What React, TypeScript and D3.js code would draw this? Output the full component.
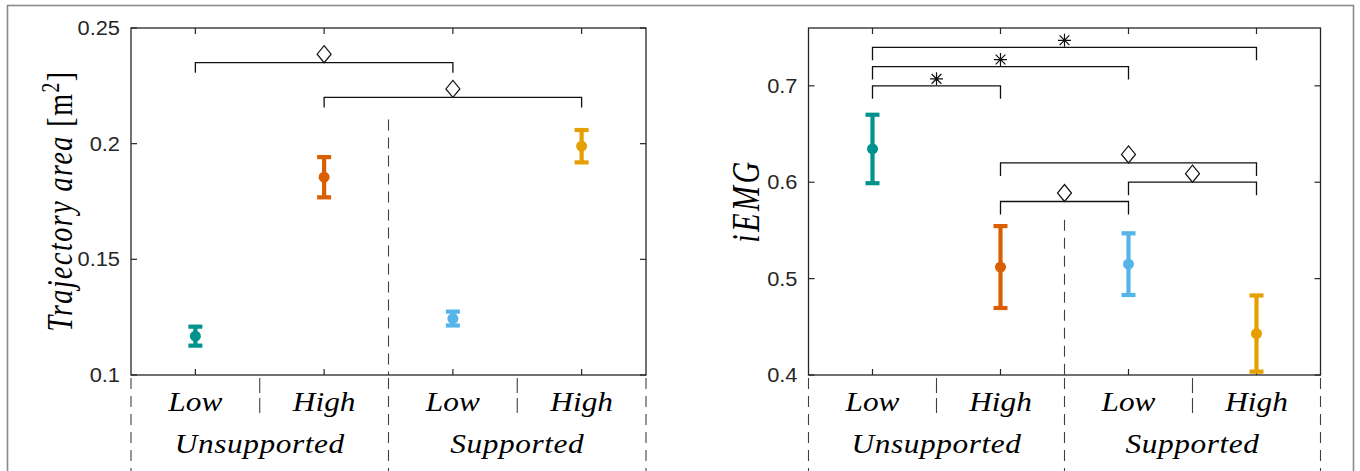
import React, { useEffect, useRef } from 'react';
import * as d3 from 'd3';

// --- data ---
const categories = ['Low', 'High', 'Low', 'High'];
const groups = ['Unsupported', 'Supported'];
const colors = ['#00928C', '#D95F02', '#56B4E9', '#E69F00'];

const areaMean = [0.1168, 0.1855, 0.1244, 0.1989];
const areaErr = [0.0041, 0.0087, 0.003, 0.007];
const areaTicks = [0.1, 0.15, 0.2, 0.25];
const areaTickLabels = ['0.1', '0.15', '0.2', '0.25'];
const areaBrackets = [
  { from: 0, to: 2, y: 0.235, mark: 'diamond' },
  { from: 1, to: 3, y: 0.22, mark: 'diamond' },
];

const emgMean = [0.6345, 0.512, 0.515, 0.443];
const emgErr = [0.0355, 0.0425, 0.032, 0.0395];
const emgTicks = [0.4, 0.5, 0.6, 0.7];
const emgTickLabels = ['0.4', '0.5', '0.6', '0.7'];
const emgBrackets = [
  { from: 0, to: 3, y: 0.74, mark: 'star' },
  { from: 0, to: 2, y: 0.72, mark: 'star' },
  { from: 0, to: 1, y: 0.7, mark: 'star' },
  { from: 1, to: 3, y: 0.62, mark: 'diamond' },
  { from: 2, to: 3, y: 0.6, mark: 'diamond' },
  { from: 1, to: 2, y: 0.58, mark: 'diamond' },
];

// the source picture is stretched sideways, text follows that
const SX = 1.3;
const AXIS_COLOR = '#262626';
const SERIF = '"Liberation Serif", "Times New Roman", serif';
const SANS = '"Liberation Sans", Arial, sans-serif';

function drawPanel(svg, cfg) {
  const top = 28;
  const bottom = 375;
  const g = svg.append('g');

  const x = d3.scalePoint().domain(d3.range(4)).range([cfg.left, cfg.right]).padding(0.5);
  const step = x.step();
  const edge = i => cfg.left + i * step;

  const y = d3.scaleLinear().domain(cfg.domain).range([bottom, top]);

  // box
  g.append('rect')
    .attr('x', cfg.left).attr('y', top)
    .attr('width', cfg.right - cfg.left).attr('height', bottom - top)
    .attr('fill', 'none').attr('stroke', AXIS_COLOR).attr('stroke-width', 1.3);

  // inward ticks
  cfg.ticks.forEach(t => {
    g.append('line').attr('x1', cfg.left).attr('x2', cfg.left + 6)
      .attr('y1', y(t)).attr('y2', y(t)).attr('stroke', AXIS_COLOR).attr('stroke-width', 1.2);
    g.append('line').attr('x1', cfg.right).attr('x2', cfg.right - 6)
      .attr('y1', y(t)).attr('y2', y(t)).attr('stroke', AXIS_COLOR).attr('stroke-width', 1.2);
  });
  d3.range(4).forEach(i => {
    g.append('line').attr('x1', x(i)).attr('x2', x(i))
      .attr('y1', top).attr('y2', top + 6).attr('stroke', AXIS_COLOR).attr('stroke-width', 1.2);
    g.append('line').attr('x1', x(i)).attr('x2', x(i))
      .attr('y1', bottom).attr('y2', bottom - 6).attr('stroke', AXIS_COLOR).attr('stroke-width', 1.2);
  });

  // tick labels
  cfg.ticks.forEach((t, i) => {
    g.append('text')
      .attr('transform', `translate(${cfg.left - 11},${y(t) + 7}) scale(1.12,1)`)
      .attr('text-anchor', 'end')
      .attr('font-family', SANS).attr('font-size', 19.5).attr('fill', AXIS_COLOR)
      .text(cfg.tickLabels[i]);
  });

  // dashed separators
  const dash = '11,7';
  g.append('line').attr('x1', edge(2)).attr('x2', edge(2))
    .attr('y1', y(cfg.dividerTop)).attr('y2', bottom)
    .attr('stroke', '#404040').attr('stroke-width', 1.1).attr('stroke-dasharray', dash);
  [0, 2, 4].forEach(i => {
    g.append('line').attr('x1', edge(i)).attr('x2', edge(i))
      .attr('y1', bottom + 3).attr('y2', 480)
      .attr('stroke', '#404040').attr('stroke-width', 1.1).attr('stroke-dasharray', dash);
  });
  [1, 3].forEach(i => {
    g.append('line').attr('x1', edge(i)).attr('x2', edge(i))
      .attr('y1', bottom + 3).attr('y2', bottom + 38)
      .attr('stroke', '#404040').attr('stroke-width', 1.1).attr('stroke-dasharray', '15,5');
  });

  // category + group labels
  categories.forEach((c, i) => {
    g.append('text')
      .attr('transform', `translate(${x(i)},411) scale(1.12,1)`)
      .attr('text-anchor', 'middle')
      .attr('font-family', SERIF).attr('font-style', 'italic').attr('font-size', 28)
      .attr('fill', '#000').text(c);
  });
  groups.forEach((gr, i) => {
    g.append('text')
      .attr('transform', `translate(${edge(i * 2 + 1)},453) scale(1.12,1)`)
      .attr('text-anchor', 'middle')
      .attr('font-family', SERIF).attr('font-style', 'italic').attr('font-size', 28)
      .attr('letter-spacing', 0.5)
      .attr('fill', '#000').text(gr);
  });

  // y label
  const lab = g.append('text')
    .attr('transform', `translate(${cfg.labelX},201) scale(${SX},1) rotate(-90)`)
    .attr('text-anchor', 'middle')
    .attr('font-family', SERIF).attr('font-size', cfg.labelSize)
    .attr('letter-spacing', cfg.labelSpacing).attr('fill', '#000');
  lab.append('tspan').attr('font-style', 'italic').text(cfg.label);
  if (cfg.unit) {
    lab.append('tspan').text(' [m');
    lab.append('tspan').attr('font-size', cfg.labelSize * 0.7).attr('dy', -10).text('2');
    lab.append('tspan').attr('dy', 10).text(']');
  }

  // significance brackets
  cfg.brackets.forEach(b => {
    const yy = y(b.y);
    g.append('path')
      .attr('d', `M${x(b.from)},${yy + cfg.drop}V${yy}H${x(b.to)}V${yy + cfg.drop}`)
      .attr('fill', 'none').attr('stroke', '#111').attr('stroke-width', 1.3);
    const mx = (x(b.from) + x(b.to)) / 2;
    if (b.mark === 'diamond') {
      const cy = yy - 8.5;
      g.append('path')
        .attr('d', `M${mx},${cy - 8.5}L${mx + 7},${cy}L${mx},${cy + 8.5}L${mx - 7},${cy}Z`)
        .attr('fill', 'white').attr('stroke', '#111').attr('stroke-width', 1.2);
    } else {
      const cy = yy - 7;
      const r = 6.5;
      const d = r * 0.75;
      g.append('path')
        .attr('d', `M${mx},${cy - r}V${cy + r}M${mx - r},${cy}H${mx + r}` +
          `M${mx - d},${cy - d}L${mx + d},${cy + d}M${mx - d},${cy + d}L${mx + d},${cy - d}`)
        .attr('stroke', '#111').attr('stroke-width', 1.2);
    }
  });

  // error bars
  cfg.mean.forEach((m, i) => {
    const cx = x(i);
    const lo = y(m - cfg.err[i]);
    const hi = y(m + cfg.err[i]);
    const eg = g.append('g').attr('stroke', colors[i]).attr('stroke-width', 4.2);
    eg.append('line').attr('x1', cx).attr('x2', cx).attr('y1', lo).attr('y2', hi);
    eg.append('line').attr('x1', cx - 7).attr('x2', cx + 7).attr('y1', lo).attr('y2', lo);
    eg.append('line').attr('x1', cx - 7).attr('x2', cx + 7).attr('y1', hi).attr('y2', hi);
    g.append('circle').attr('cx', cx).attr('cy', y(m)).attr('r', 5.5).attr('fill', colors[i]);
  });
}

export default function App() {
  const svgRef = useRef(null);

  useEffect(() => {
    const svg = d3.select(svgRef.current);
    svg.selectAll('*').remove();

    // outer figure frame
    svg.append('rect')
      .attr('x', 7.5).attr('y', 5.5).attr('width', 1346).attr('height', 520)
      .attr('fill', 'white').attr('stroke', '#8a8a8a').attr('stroke-width', 1.6);

    drawPanel(svg, {
      left: 131, right: 646, domain: [0.1, 0.25],
      ticks: areaTicks, tickLabels: areaTickLabels,
      mean: areaMean, err: areaErr, brackets: areaBrackets, drop: 10,
      dividerTop: 0.2105,
      label: 'Trajectory area', unit: true, labelX: 72, labelSize: 28, labelSpacing: 1.5,
    });
    drawPanel(svg, {
      left: 808.5, right: 1320.5, domain: [0.4, 0.76],
      ticks: emgTicks, tickLabels: emgTickLabels,
      mean: emgMean, err: emgErr, brackets: emgBrackets, drop: 13,
      dividerTop: 0.561,
      label: 'iEMG', unit: false, labelX: 759, labelSize: 30, labelSpacing: 2.5,
    });
  }, []);

  return (
    <svg
      ref={svgRef}
      width={1360}
      height={471}
      style={{ position: 'absolute', left: 0, top: 0, background: 'white' }}
    />
  );
}
